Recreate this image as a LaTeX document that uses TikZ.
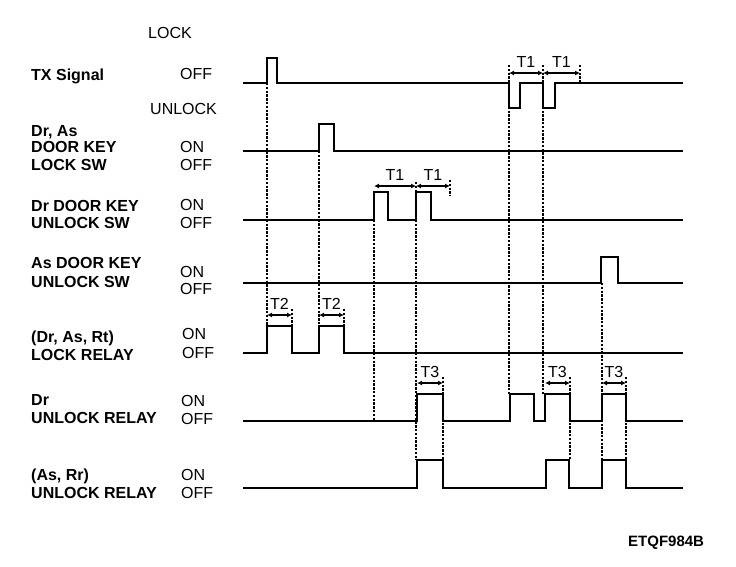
\documentclass[tikz,border=0pt]{standalone}
\usepackage{fontspec}
\setmainfont{Liberation Sans}
\usetikzlibrary{arrows.meta}

\begin{document}
\begin{tikzpicture}[x=1pt,y=-1pt,
  sig/.style={anchor=base west,inner sep=0pt,font=\bfseries\fontsize{16}{19}\selectfont},
  lvl/.style={anchor=base west,inner sep=0pt,font=\fontsize{16}{19}\selectfont},
  tlbl/.style={anchor=base,inner sep=0pt,font=\fontsize{16}{19}\selectfont},
  wave/.style={line width=2.4pt,line join=miter},
  guide/.style={line width=1.7pt,dash pattern=on 2.4pt off 1.4pt},
  span/.style={{Latex[length=5pt,width=5pt]}-{Latex[length=5pt,width=5pt]},line width=1.5pt}]
\useasboundingbox (0,0) rectangle (736,566);
% left hand labels
\node[lvl] (lock) at (148,38) {LOCK};
\node[sig] (tx) at (31,80) {TX Signal};
\node[lvl] (txoff) at (180,79) {OFF};
\node[lvl] (unlock) at (150,114) {UNLOCK};
\node[sig] (ls1) at (31,136) {Dr, As};
\node[sig] (ls2) at (31,152) {DOOR KEY};
\node[sig] (ls3) at (31,170) {LOCK SW};
\node[lvl] (lson) at (180,152) {ON};
\node[lvl] (lsoff) at (180,170) {OFF};
\node[sig] (du1) at (31,211) {Dr DOOR KEY};
\node[sig] (du2) at (31,228) {UNLOCK SW};
\node[lvl] (duon) at (180,210) {ON};
\node[lvl] (duoff) at (180,228) {OFF};
\node[sig] (au1) at (31,268) {As DOOR KEY};
\node[sig] (au2) at (31,287) {UNLOCK SW};
\node[lvl] (auon) at (180,277) {ON};
\node[lvl] (auoff) at (180,294) {OFF};
\node[sig] (lr1) at (31,342) {(Dr, As, Rt)};
\node[sig] (lr2) at (31,360) {LOCK RELAY};
\node[lvl] (lron) at (182,339) {ON};
\node[lvl] (lroff) at (182,358) {OFF};
\node[sig] (dr1) at (31,405) {Dr};
\node[sig] (dr2) at (31,423) {UNLOCK RELAY};
\node[lvl] (dron) at (181,406) {ON};
\node[lvl] (droff) at (181,424) {OFF};
\node[sig] (ar1) at (31,480) {(As, Rr)};
\node[sig] (ar2) at (31,498) {UNLOCK RELAY};
\node[lvl] (aron) at (181,480) {ON};
\node[lvl] (aroff) at (181,498) {OFF};
\node[sig,font=\bfseries\fontsize{15}{18}\selectfont] (code) at (628,546) {ETQF984B};
% waveforms
\draw[wave] (243,83) -- (267,83) -- (267,58) -- (277,58) -- (277,83) -- (509,83)
  -- (509,108) -- (520,108) -- (520,83) -- (543,83) -- (543,108) -- (555,108)
  -- (555,83) -- (683,83);
\draw[wave] (243,151) -- (319,151) -- (319,124) -- (334,124) -- (334,151) -- (683,151);
\draw[wave] (243,220) -- (374,220) -- (374,192) -- (388,192) -- (388,220) -- (416,220)
  -- (416,192) -- (431,192) -- (431,220) -- (683,220);
\draw[wave] (243,283) -- (601,283) -- (601,257) -- (618,257) -- (618,283) -- (683,283);
\draw[wave] (243,353) -- (267,353) -- (267,326) -- (292,326) -- (292,353) -- (319,353)
  -- (319,326) -- (344,326) -- (344,353) -- (683,353);
\draw[wave] (243,421) -- (417,421) -- (417,394) -- (443,394) -- (443,421) -- (510,421)
  -- (510,394) -- (534,394) -- (534,421) -- (545,421) -- (545,394) -- (570,394)
  -- (570,421) -- (602,421) -- (602,394) -- (626,394) -- (626,421) -- (683,421);
\draw[wave] (243,488) -- (417,488) -- (417,460) -- (443,460) -- (443,488) -- (546,488)
  -- (546,460) -- (569,460) -- (569,488) -- (602,488) -- (602,460) -- (626,460)
  -- (626,488) -- (683,488);
% dotted guides
\draw[guide] (267,83) -- (267,326);
\draw[guide] (319,151) -- (319,326);
\draw[guide] (292,309) -- (292,326);
\draw[guide] (344,309) -- (344,326);
\draw[guide] (374,220) -- (374,421);
\draw[guide] (416,182) -- (416,192);
\draw[guide] (416,220) -- (416,460);
\draw[guide] (450,180) -- (450,196);
\draw[guide] (443,377) -- (443,460);
\draw[guide] (509,65) -- (509,394);
\draw[guide] (543,65) -- (543,394);
\draw[guide] (580,65) -- (580,83);
\draw[guide] (570,377) -- (570,460);
\draw[guide] (602,283) -- (602,460);
\draw[guide] (626,377) -- (626,460);
% timing spans
\draw[span] (509,73) -- node[tlbl,above=5pt] (t1a) {T1} (543,73);
\draw[span] (543,73) -- node[tlbl,above=5pt] (t1b) {T1} (580,73);
\draw[span] (374,186) -- node[tlbl,above=5pt] (t1c) {T1} (416,186);
\draw[span] (416,186) -- node[tlbl,above=5pt] (t1d) {T1} (450,186);
\draw[span] (267,315) -- node[tlbl,above=5pt] (t2a) {T2} (292,315);
\draw[span] (319,315) -- node[tlbl,above=5pt] (t2b) {T2} (344,315);
\draw[span] (417,383) -- node[tlbl,above=5pt] (t3a) {T3} (443,383);
\draw[span] (545,383) -- node[tlbl,above=5pt] (t3b) {T3} (570,383);
\draw[span] (602,383) -- node[tlbl,above=5pt] (t3c) {T3} (626,383);
\end{tikzpicture}
\end{document}
